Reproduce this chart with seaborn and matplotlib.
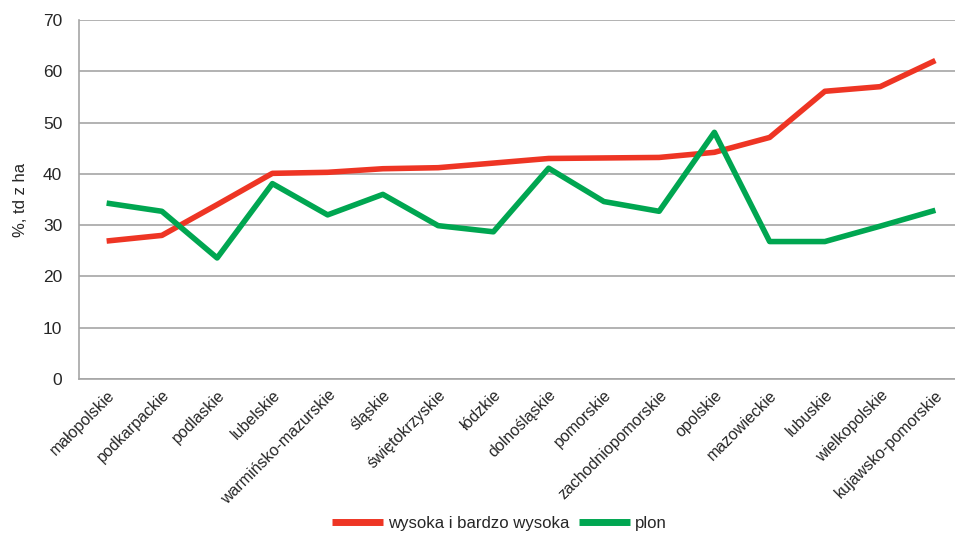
import pandas as pd
import numpy as np
import matplotlib
matplotlib.use("Agg")
import matplotlib.pyplot as plt
import seaborn as sns

regions = ["małopolskie", "podkarpackie", "podlaskie", "lubelskie", "warmińsko-mazurskie",
           "śląskie", "świętokrzyskie", "łódzkie", "dolnośląskie", "pomorskie",
           "zachodniopomorskie", "opolskie", "mazowieckie", "lubuskie", "wielkopolskie",
           "kujawsko-pomorskie"]
wysoka = [26.9, 28.0, 34.0, 40.1, 40.3, 41.0, 41.2, 42.1, 43.0, 43.1, 43.2, 44.2, 47.1, 56.1, 57.0, 62.1]
plon = [34.3, 32.7, 23.6, 38.1, 32.0, 36.0, 29.9, 28.7, 41.1, 34.6, 32.7, 48.1, 26.8, 26.8, 29.8, 32.9]
series = ["wysoka i bardzo wysoka", "plon"]
colors = ["#EE3524", "#00A651"]

df = pd.DataFrame({
    "region": regions * 2,
    "x": list(range(len(regions))) * 2,
    "value": wysoka + plon,
    "seria": [series[0]] * len(regions) + [series[1]] * len(regions),
})

sns.set_style("white")
plt.rcParams["font.family"] = ["Liberation Sans", "DejaVu Sans"]

fig = plt.figure(figsize=(9.55, 5.36), dpi=100)
ax = fig.add_axes([79 / 955, 1 - 379 / 536, 1 - 79 / 955, (379 - 20) / 536])

sns.lineplot(data=df, x="x", y="value", hue="seria", palette=colors, linewidth=4,
             ax=ax, legend=False, solid_joinstyle="round", solid_capstyle="butt")

ax.set_xlim(-0.5, 15.355)
ax.set_ylim(0, 70)
ax.set_yticks(range(0, 71, 10))
ax.yaxis.grid(True, color="#A6A6A6", linewidth=1.2)
ax.set_axisbelow(True)
ax.set_xticks(range(len(regions)))
ax.set_xticklabels(regions, rotation=45, ha="right", rotation_mode="anchor", fontsize=11.5)
ax.tick_params(axis="y", labelsize=12.5, length=0, pad=12)
ax.tick_params(axis="x", length=0, pad=6)
ax.set_xlabel("")
ax.set_ylabel("%, td z ha", fontsize=12)
ax.yaxis.set_label_coords(-0.058, 0.5)
for s in ["top", "right"]:
    ax.spines[s].set_visible(False)
for s in ["left", "bottom"]:
    ax.spines[s].set_color("#A6A6A6")
    ax.spines[s].set_linewidth(1.2)

handles = [plt.Line2D([], [], color=c, linewidth=5, solid_capstyle="butt") for c in colors]
fig.legend(handles, series, loc="lower center", bbox_to_anchor=(0.523, -0.018), ncol=2,
           frameon=False, fontsize=12.1, handlelength=3.0, handletextpad=0.3, columnspacing=0.6)

fig.savefig("out.png", dpi=100)
